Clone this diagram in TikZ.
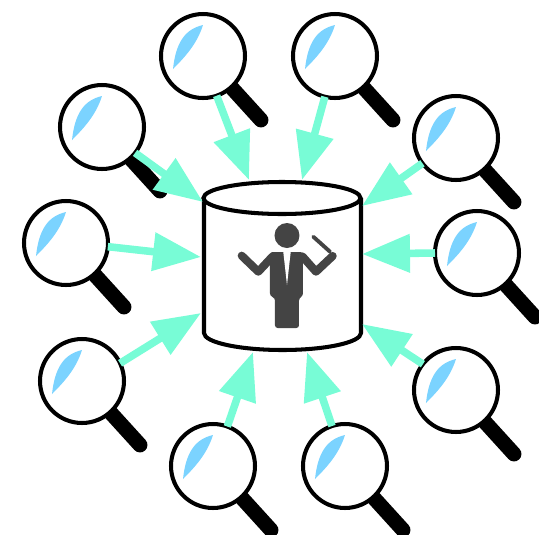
\documentclass[tikz,border=0pt]{standalone}
\usepackage{xcolor}
\usetikzlibrary{arrows.meta}
\definecolor{arrowteal}{RGB}{120,252,214}
\definecolor{glassblue}{RGB}{123,211,255}
\definecolor{figuregray}{RGB}{68,68,68}
\tikzset{
    ring/.style={circle, draw=black, fill=white, line width=2.3pt, minimum size=1.68cm, inner sep=0pt, outer sep=0pt},
    handle/.style={line width=8.5pt, line cap=round},
    feed/.style={draw=arrowteal, line width=4.3pt, -{Triangle[length=0.96cm, width=0.74cm, fill=arrowteal]}},
    dbline/.style={line width=2.3pt},
    limb/.style={figuregray, line width=4.6pt, line cap=round, line join=round},
    lens/.pic={
        \draw[handle] (28,31) -- (58,64);
        \node[ring] (ring) at (0,0) {};
        \fill[glassblue] (0,-31) .. controls (-17,-27) and (-27,-15) .. (-30,13) .. controls (-18,1) and (-6,-12) .. cycle;
    }
}

\begin{document}
\begin{tikzpicture}[x=0.02cm, y=-0.02cm]
            \useasboundingbox (0,0) rectangle (539,535);

            % database
            \node[minimum width=3.14cm, minimum height=3.0cm, inner sep=0pt] (db) at (282,265) {};
            \draw[dbline, fill=white] (204,198) -- (204,333) arc[start angle=180, end angle=360, x radius=78.5, y radius=-17] -- (361,198);
            \draw[dbline, fill=white] (282,198) ellipse[x radius=78.5, y radius=16];

            % conductor
            \fill[figuregray] (287,235.5) circle[radius=12.5];
            \fill[figuregray, rounded corners=1.5pt] (270,252) -- (303,252) -- (303,296) -- (299,298) -- (299,328) -- (275,328) -- (275,298) -- (270,296) -- cycle;
            \fill[white] (283.3,252) -- (290.7,252) -- (287,285) -- cycle;
            \draw[limb] (272.5,256.5) -- (258.3,271.7) -- (241.7,255.7);
            \draw[limb] (302.5,256.5) -- (316,271.7) -- (332.7,256);
            \draw[figuregray, line width=2.2pt, line cap=round] (313.3,236.7) -- (330,251.7);

            % magnifiers
            \pic (a) at (203,56) {lens};
            \pic (b) at (335,56) {lens};
            \pic (c) at (102,127) {lens};
            \pic (d) at (456,138) {lens};
            \pic (e) at (66,243) {lens};
            \pic (f) at (477,253) {lens};
            \pic (g) at (82,381) {lens};
            \pic (h) at (456,390) {lens};
            \pic (i) at (213,466) {lens};
            \pic (j) at (345,466) {lens};

            % arrow ends on the database
            \coordinate (ta) at (249,180);
            \coordinate (tb) at (302,180);
            \coordinate (tc) at (203,202);
            \coordinate (td) at (362,206);
            \coordinate (te) at (201,257);
            \coordinate (tf) at (362,254);
            \coordinate (tg) at (201,313);
            \coordinate (th) at (362,324);
            \coordinate (ti) at (253,352);
            \coordinate (tj) at (307,352);

            % arrows
            \draw[feed] (aring.-71) -- (ta);
            \draw[feed] (bring.-104) -- (tb);
            \draw[feed] (cring.-38) -- (tc);
            \draw[feed] (dring.-143) -- (td);
            \draw[feed] (ering.-5) -- (te);
            \draw[feed] (fring.180) -- (tf);
            \draw[feed] (gring.25) -- (tg);
            \draw[feed] (hring.142) -- (th);
            \draw[feed] (iring.70) -- (ti);
            \draw[feed] (jring.108) -- (tj);
        \end{tikzpicture}
\end{document}
